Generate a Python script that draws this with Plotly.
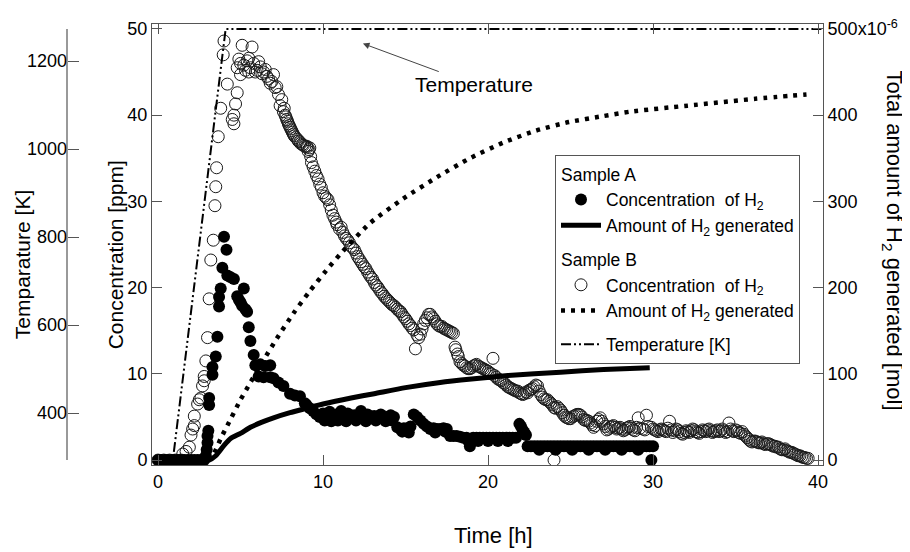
import plotly.graph_objects as go

FONT = "Liberation Sans, Arial, sans-serif"

# ---------------- data ----------------
# Sample A : concentration of H2 [ppm] (filled circles)
A_t = [0.0, 0.2, 0.4, 0.6, 0.8, 1.0, 1.2, 1.4, 1.6, 1.8, 2.0, 2.2, 2.4, 2.6, 2.8,
       2.9, 2.95, 3.0, 3.0, 3.05, 3.1, 3.1, 3.3, 3.3, 3.5, 3.6, 3.7, 3.7, 3.8, 3.9,
       4.0, 4.15, 4.2, 4.4, 4.6, 4.8, 4.9, 5.0, 5.1, 5.2, 5.3, 5.4, 5.5, 5.6, 5.8,
       5.9, 6.2, 6.5, 6.8, 6.1, 6.4, 6.8, 7.0, 7.3, 7.6, 8.0, 8.3, 8.6, 8.9, 9.0,
       9.2, 9.4, 9.6, 9.8, 10.0, 10.2, 10.4, 10.6, 10.8, 11.0, 11.1, 11.3, 11.5, 11.7,
       11.9, 12.1, 12.3, 12.5, 12.7, 12.9, 13.1, 13.3, 13.5, 13.7, 13.9, 14.1, 14.3,
       14.5, 14.7, 14.9, 15.1, 15.3, 15.5, 15.7, 15.9, 16.1, 16.3, 16.5, 16.7, 16.9,
       17.1, 17.3, 17.5, 17.7, 17.9, 18.1, 18.3, 18.5, 18.7, 18.9, 19.1, 19.3, 19.5,
       19.7, 19.9, 20.1, 20.3, 20.5, 20.7, 20.9, 21.1, 21.3, 21.5, 21.7, 21.9, 22.0,
       22.1, 22.2, 22.3, 22.4, 22.6, 22.8, 23.0, 23.2, 23.4, 23.6, 23.8, 24.0, 24.2,
       24.4, 24.6, 24.8, 25.0, 25.2, 25.4, 25.6, 25.8, 26.0, 26.2, 26.4, 26.6, 26.8,
       27.0, 27.2, 27.4, 27.6, 27.8, 28.0, 28.2, 28.4, 28.6, 28.8, 29.0, 29.2, 29.4,
       29.6, 29.8, 30.0, 29.9,
       10.1, 10.5, 10.9, 11.4, 12.0, 12.6, 13.2, 13.8, 14.2, 14.8, 15.2, 16.8, 17.4,
       18.8, 19.4, 20.0, 20.6, 21.2, 23.1, 24.1, 25.1, 26.1, 27.1, 28.1, 29.1]
A_c = [0.0, 0.0, 0.0, 0.0, 0.0, 0.0, 0.0, 0.0, 0.0, 0.0, 0.0, 0.0, 0.0, 0.0, 0.0,
       0.5, 1.2, 2.0, 2.8, 3.4, 6.4, 7.2, 9.9, 10.8, 12.0, 14.3, 17.8, 18.9, 19.9, 22.3,
       25.9, 24.4, 21.4, 21.2, 21.0, 19.0, 18.6, 18.3, 17.9, 19.9, 17.5, 17.2, 15.4, 13.8, 12.2,
       11.0, 11.1, 10.9, 11.0, 9.7, 9.6, 9.6, 9.5, 9.0, 8.6, 7.7, 7.5, 7.4, 6.6, 6.4,
       6.0, 5.7, 5.3, 5.0, 5.4, 5.0, 5.6, 5.0, 5.3, 5.0, 5.7, 5.0, 5.4, 5.0,
       5.2, 5.0, 5.7, 5.0, 5.3, 5.0, 5.1, 5.0, 5.3, 5.0, 5.0, 5.2, 5.0,
       3.8, 3.6, 3.7, 3.6, 3.9, 5.3, 5.0, 4.6, 4.2, 3.9, 3.6, 3.7, 3.6,
       3.6, 3.7, 3.6, 2.8, 2.8, 2.8, 2.7, 2.6, 2.6, 1.6, 2.6, 2.6, 2.6,
       2.6, 2.6, 2.6, 2.6, 2.6, 2.6, 2.6, 2.6, 2.6, 2.6, 2.6, 4.2, 3.9,
       3.5, 3.2, 2.9, 1.6, 1.6, 1.6, 1.6, 1.6, 1.6, 1.6, 1.6, 1.6, 1.6,
       1.6, 1.6, 1.6, 1.6, 1.6, 1.6, 1.6, 1.6, 1.6, 1.6, 1.6, 1.6, 1.6,
       1.6, 1.6, 1.6, 1.6, 1.6, 1.6, 1.6, 1.6, 1.6, 1.6, 1.6, 1.6, 1.6,
       1.6, 1.6, 1.6, 0.0,
       4.6, 4.5, 4.6, 4.5, 4.6, 4.5, 4.6, 4.5, 4.6, 3.3, 3.2, 3.2, 3.3,
       2.2, 2.2, 2.2, 2.2, 2.2, 1.2, 1.2, 1.2, 1.2, 1.2, 1.2, 1.2]

# Sample B : concentration of H2 [ppm] (open circles)
B_t = [0.0, 0.35, 0.7, 1.05, 1.4, 1.5, 1.7, 1.9, 2.0, 2.1, 2.2, 2.2, 2.4, 2.5, 2.6,
       2.7, 2.8, 2.8, 2.9, 3.0, 3.1, 3.2, 3.35, 3.45, 3.5, 3.55, 3.65, 3.8, 3.95, 4.0,
       4.2, 4.8, 4.7, 4.6, 4.5, 4.6, 5.1, 5.7, 4.8, 5.0, 5.2, 5.4, 5.6, 5.8, 6.0,
       6.2, 6.4, 5.0, 5.5, 6.6, 7.0, 6.8, 7.2, 7.3, 7.4, 7.6, 7.7, 7.8, 7.9, 8.0,
       8.1, 8.2, 8.35, 8.5, 8.65, 8.8, 9.0, 9.2, 9.1, 9.3, 9.5, 9.9, 10.0, 10.3, 10.4,
       10.6, 10.85, 11.1, 11.5, 11.9, 12.3, 12.6, 12.9, 13.1, 13.3, 13.5, 13.7, 14.0, 14.3,
       14.5, 14.7, 14.9, 15.1, 15.3, 15.5, 15.6, 15.8, 15.9, 16.1, 16.3, 16.5, 16.7, 16.9,
       17.1, 17.3, 17.5, 17.7, 17.9, 18.0, 18.15, 18.3, 18.5, 18.7, 18.9, 19.1, 19.3, 19.5,
       19.7, 19.9, 20.3, 20.2, 20.5, 20.8, 21.0, 21.3, 21.5, 21.8, 22.1, 22.4, 22.7, 22.9,
       23.0, 23.2, 23.4, 23.6, 23.8, 24.0, 24.2, 24.0, 24.4, 24.6, 24.8, 25.0, 25.2, 25.4,
       25.6, 25.8, 26.0, 26.2, 26.4, 26.6, 26.8, 27.0, 27.2, 27.4, 27.6, 27.8, 28.0, 28.2,
       28.4, 28.6, 28.8, 29.1, 29.4, 29.6, 29.9, 30.1, 30.3, 30.5, 30.7, 31.0, 31.2, 31.4,
       31.6, 31.8, 32.0, 32.2, 32.4, 32.6, 32.8, 33.0, 33.2, 33.4, 33.6, 33.8, 34.0, 34.2,
       34.4, 34.6, 34.8, 35.0, 35.2, 35.4, 35.6, 35.8, 36.0, 36.2, 36.4, 36.6, 36.8, 37.0,
       37.2, 37.4, 37.6, 37.8, 38.0, 38.2, 38.4, 38.6, 38.8, 39.0, 39.2, 39.4,
       4.9, 5.3, 5.5, 5.9, 6.1, 6.3, 6.5, 6.7, 6.9, 7.1, 7.5, 7.65, 7.75, 7.85,
       7.95, 8.05, 8.15, 8.25, 8.45, 8.6, 8.75, 8.9, 9.05, 9.15, 9.25, 9.4, 9.6, 9.7,
       9.8, 10.1, 10.2, 10.5, 10.7, 10.8, 11.0, 11.2, 11.3, 11.4, 11.6, 11.7, 11.8, 12.0,
       12.1, 12.2, 12.4, 12.5, 12.7, 12.8, 13.0, 13.2, 13.4, 13.6, 13.8, 13.9, 14.1, 14.2,
       14.4, 14.6, 14.8, 15.0, 15.2, 15.4, 15.7, 16.0, 16.2, 16.4, 16.6, 16.8, 17.0, 17.2,
       17.4, 17.6, 17.8, 18.05, 18.2, 18.4, 18.6, 18.8, 19.0, 19.2, 19.4, 19.6, 19.8, 20.0,
       20.1, 20.4, 20.6, 20.7, 20.9, 21.1, 21.2, 21.4, 21.6, 21.7, 21.9, 22.0, 22.2, 22.3,
       22.5, 22.6, 22.8, 23.1, 23.3, 23.5, 23.7, 23.9, 24.1, 24.3, 24.5, 24.7, 24.9, 25.1,
       25.3, 25.5, 25.7, 25.9, 26.1, 26.3, 26.5, 26.7, 26.9, 27.1, 27.3, 27.5, 27.7, 27.9,
       28.1, 28.3, 28.5, 28.7, 28.9, 29.0, 29.2, 29.5, 29.7, 30.0, 30.2, 30.4, 30.6, 30.8,
       30.9, 31.1, 31.3, 31.5, 31.7, 31.9, 32.1, 32.3, 32.5, 32.7, 32.9, 33.1, 33.3, 33.5,
       33.7, 33.9, 34.1, 34.3, 34.5, 34.7, 34.9, 35.1, 35.3, 35.5, 35.7, 35.9, 36.1, 36.3,
       36.5, 36.7, 36.9, 37.1, 37.3, 37.5, 37.7, 37.9, 38.1, 38.3, 38.5, 38.7, 38.9, 39.1,
       39.3]
B_c = [0.0, 0.0, 0.0, 0.0, 0.0, 0.7, 1.0, 1.5, 2.9, 3.6, 4.0, 5.1, 6.5, 7.0, 7.2,
       8.6, 9.2, 9.7, 11.5, 14.2, 18.7, 23.2, 25.5, 29.5, 31.7, 33.9, 37.5, 40.8, 47.0, 48.6,
       43.6, 42.6, 41.3, 40.0, 39.5, 39.0, 48.1, 47.9, 45.5, 46.0, 45.8, 46.3, 45.5, 46.0, 45.2,
       45.6, 45.0, 44.7, 45.0, 44.5, 44.7, 43.7, 43.3, 42.4, 41.1, 40.4, 40.0, 39.5, 39.0, 38.6,
       38.2, 37.8, 37.4, 37.0, 36.7, 36.5, 36.4, 36.2, 35.8, 34.5, 33.5, 31.6, 31.0, 30.2, 29.6,
       28.4, 27.3, 27.0, 25.5, 24.4, 23.0, 22.2, 21.2, 20.6, 20.1, 19.5, 19.0, 18.4, 17.9,
       17.5, 17.2, 16.6, 16.1, 15.6, 15.1, 12.9, 14.2, 14.6, 15.8, 16.5, 16.9, 16.4, 15.8,
       15.5, 15.3, 15.1, 14.9, 14.7, 13.1, 12.3, 11.4, 11.0, 10.7, 10.6, 10.9, 11.1, 10.8,
       10.6, 10.4, 11.8, 10.0, 9.6, 9.2, 8.9, 8.4, 8.2, 8.0, 7.6, 7.8, 8.3, 8.7,
       8.6, 7.6, 7.1, 7.0, 6.6, 6.1, 6.2, 0.0, 5.8, 5.2, 4.9, 4.8, 5.1, 5.3,
       5.2, 4.7, 4.6, 4.3, 3.8, 4.5, 4.9, 4.2, 3.5, 3.8, 4.0, 3.6, 3.8, 3.4,
       3.7, 3.9, 3.5, 4.9, 3.6, 5.2, 3.8, 3.5, 3.3, 3.6, 3.4, 4.5, 3.2, 3.6,
       3.3, 3.0, 3.4, 3.2, 3.6, 3.3, 3.1, 3.5, 3.3, 3.6, 3.2, 3.4, 3.3, 3.6,
       3.2, 4.3, 3.4, 3.5, 3.2, 3.3, 2.8, 2.4, 2.1, 2.2, 2.0, 2.1, 1.8, 1.9,
       1.7, 1.6, 1.5, 1.2, 1.3, 1.0, 0.9, 0.7, 0.5, 0.4, 0.3, 0.2,
       46.5, 45.2, 46.6, 45.0, 46.2, 44.8, 45.3, 44.2, 43.9, 43.2, 41.8, 40.8, 39.8, 39.3,
       38.8, 38.4, 38.0, 37.6, 37.2, 36.9, 36.6, 36.4, 36.3, 36.0, 35.2, 34.0, 33.0, 32.6,
       32.0, 30.6, 30.4, 29.0, 28.0, 27.6, 26.8, 26.4, 26.0, 25.7, 25.2, 24.8, 24.6, 24.0,
       23.6, 23.3, 22.7, 22.4, 21.8, 21.5, 21.0, 20.3, 19.8, 19.3, 18.8, 18.6, 18.2, 18.0,
       17.7, 17.3, 16.9, 16.4, 15.8, 15.3, 14.5, 15.2, 16.2, 16.9, 16.6, 16.1, 15.6, 15.5,
       15.2, 15.0, 14.8, 12.8, 12.0, 11.2, 10.9, 10.6, 10.7, 11.0, 10.9, 10.7, 10.5, 10.3,
       10.1, 9.8, 9.4, 9.3, 9.0, 8.7, 8.5, 8.3, 8.1, 8.0, 7.8, 7.7, 7.7, 7.9,
       8.1, 8.2, 8.5, 8.0, 7.3, 7.0, 6.8, 6.4, 6.0, 6.0, 5.5, 5.0, 4.8, 5.0,
       5.2, 5.3, 5.0, 4.6, 4.5, 4.1, 4.0, 4.7, 4.5, 3.9, 3.6, 3.9, 3.8, 3.7,
       3.6, 3.5, 3.8, 3.7, 3.4, 3.8, 3.7, 3.5, 3.9, 3.6, 3.4, 3.5, 3.5, 3.3,
       3.7, 3.5, 3.4, 3.5, 3.1, 3.2, 3.3, 3.4, 3.5, 3.2, 3.3, 3.4, 3.5, 3.4,
       3.3, 3.5, 3.4, 3.4, 3.3, 3.6, 3.3, 3.4, 3.1, 3.0, 2.6, 2.2, 2.2, 2.1,
       2.0, 1.9, 1.9, 1.8, 1.6, 1.5, 1.3, 1.2, 1.1, 0.9, 0.8, 0.6, 0.5, 0.3,
       0.2]

# Amount of H2 generated [x10^-6 mol]
amtA_t = [0, 3.1, 3.5, 4.0, 4.4, 5.0, 5.6, 6.3, 7.0, 8.0, 9.0, 10.0, 11.7, 13.1,
          15.0, 17.1, 19.0, 21.2, 24.4, 27.0, 29.8]
amtA_v = [0, 0, 5, 17, 25, 31, 38, 44, 49, 55, 60, 65, 72, 77,
          84, 90, 94, 98, 102, 105, 107]
amtB_t = [0, 3.0, 3.4, 3.8, 4.2, 5.0, 5.6, 6.4, 7.2, 8.2, 9.2, 10.2, 11.1, 12.8,
          14.85, 16.9, 18.9, 20.9, 22.9, 24.9, 27.0, 28.6, 32.1, 36.2, 39.3]
amtB_v = [0, 0, 8, 25, 40, 70, 90, 116, 141, 170, 196, 220, 240, 274,
          303, 328, 350, 368, 382, 392, 399, 404, 411, 419, 424]

# Temperature [K]
temp_t = [0, 0.9, 4.1, 40.3]
temp_K = [293, 293, 1273, 1273]

conc_ticks = [0, 10, 20, 30, 40, 50]
amt_ticks = [0, 100, 200, 300, 400, 500]
amt_ticktext = ["0", "100", "200", "300", "400", "500x10<sup>-6</sup>"]
temp_ticks = [400, 600, 800, 1000, 1200]
time_ticks = [0, 10, 20, 30, 40]

# ---------------- geometry ----------------
C_MIN, C_MAX = -0.57, 50.57


def c_to_T(c):
    return 293 + c * (1273 - 293) / 50.0


AXC = "#555555"
OFF = 8            # page body margin of the html page
W, H = 910 - OFF, 552 - OFF
L, R, T, B = 52, 87, 9, 87   # figure coordinates
pw = W - L - R
ph = H - T - B


def px_x(p):   # screen px -> paper x
    return (p - OFF - L) / pw


def px_y(p):   # screen px -> paper y
    return (H - B - (p - OFF)) / ph


fig = go.Figure()

fig.add_trace(go.Scatter(
    x=B_t, y=B_c, mode="markers", name="Concentration  of H<sub>2</sub>",
    legendgroup="B", legendgrouptitle=dict(text="Sample B"), legendrank=3,
    marker=dict(symbol="circle-open", size=12, color="#1a1a1a", line=dict(width=1)),
    yaxis="y"))
fig.add_trace(go.Scatter(
    x=A_t, y=A_c, mode="markers", name="Concentration  of H<sub>2</sub>",
    legendgroup="A", legendgrouptitle=dict(text="Sample A"), legendrank=1,
    marker=dict(symbol="circle", size=12, color="black"),
    yaxis="y"))
fig.add_trace(go.Scatter(
    x=amtA_t, y=amtA_v, mode="lines", name="Amount of H<sub>2</sub> generated",
    legendgroup="A", legendrank=2,
    line=dict(color="black", width=5, shape="spline", smoothing=0.6),
    yaxis="y2"))
fig.add_trace(go.Scatter(
    x=amtB_t, y=amtB_v, mode="lines", name="Amount of H<sub>2</sub> generated",
    legendgroup="B", legendrank=4,
    line=dict(color="black", width=4.5, dash="4px,6px", shape="spline", smoothing=0.6),
    yaxis="y2"))
fig.add_trace(go.Scatter(
    x=temp_t, y=temp_K, mode="lines", name="Temperature [K]",
    legendgroup="T", legendrank=5,
    line=dict(color="black", width=2, dash="10px,3px,2px,3px,2px,3px"),
    yaxis="y3"))

fig.update_layout(
    width=W, height=H,
    margin=dict(l=L, r=R, t=T, b=B, pad=0),
    paper_bgcolor="white", plot_bgcolor="white",
    font=dict(family=FONT, size=18, color="black"),
    showlegend=True,
    legend=dict(x=px_x(555), y=px_y(150), xanchor="left", yanchor="top",
                bgcolor="white", bordercolor=AXC, borderwidth=1,
                font=dict(size=17.5, family=FONT), tracegroupgap=8,
                traceorder="grouped", grouptitlefont=dict(size=17.5, family=FONT),
                itemwidth=40),
    xaxis=dict(domain=[px_x(152), 1], range=[-0.364, 40.3], tickvals=time_ticks,
               ticks="inside", ticklen=10, tickcolor=AXC, showline=True, linecolor=AXC,
               linewidth=1, mirror="ticks", showgrid=False, zeroline=False,
               tickfont=dict(size=18)),
    yaxis=dict(range=[C_MIN, C_MAX], tickvals=conc_ticks, ticks="inside", ticklen=10,
               tickcolor=AXC, showline=True, linecolor=AXC, linewidth=1,
               showgrid=False, zeroline=False, tickfont=dict(size=18)),
    yaxis2=dict(overlaying="y", side="right", anchor="x",
                range=[C_MIN * 10, C_MAX * 10], tickvals=amt_ticks, ticktext=amt_ticktext,
                ticks="inside", ticklen=10, tickcolor=AXC, showline=True, linecolor=AXC,
                linewidth=1, showgrid=False, zeroline=False, tickfont=dict(size=18)),
    yaxis3=dict(overlaying="y", side="left", anchor="free", position=px_x(67),
                range=[c_to_T(C_MIN), c_to_T(C_MAX)], tickvals=temp_ticks,
                ticks="inside", ticklen=11, tickcolor=AXC, showline=False,
                showgrid=False, zeroline=False, tickfont=dict(size=18)),
)

# temperature axis line (only over the measured span)
fig.add_shape(type="line", xref="paper", yref="y3", x0=px_x(67), x1=px_x(67),
              y0=293, y1=1273, line=dict(color=AXC, width=1.2))

# axis titles
fig.add_annotation(text="Temparature [K]", xref="paper", yref="paper",
                   x=px_x(22), y=px_y(262), xanchor="center", yanchor="middle",
                   textangle=-90, showarrow=False, font=dict(size=21))
fig.add_annotation(text="Concentration [ppm]", xref="paper", yref="paper",
                   x=px_x(115), y=px_y(252), xanchor="center", yanchor="middle",
                   textangle=-90, showarrow=False, font=dict(size=21))
fig.add_annotation(text="Total amount of H<sub>2</sub> generated [mol]", xref="paper",
                   yref="paper", x=px_x(893), y=px_y(237), xanchor="center",
                   yanchor="middle", textangle=90, showarrow=False, font=dict(size=22))
fig.add_annotation(text="Time [h]", xref="paper", yref="paper",
                   x=px_x(493), y=px_y(537), xanchor="center", yanchor="middle",
                   showarrow=False, font=dict(size=22))

# "Temperature" pointer
fig.add_annotation(text="Temperature", x=12.42, y=48.3, xref="x", yref="y",
                   ax=111, ay=41, showarrow=True, arrowhead=2, arrowsize=1.3,
                   arrowwidth=1, arrowcolor="#444444", font=dict(size=21))

fig.write_html("out.html")
